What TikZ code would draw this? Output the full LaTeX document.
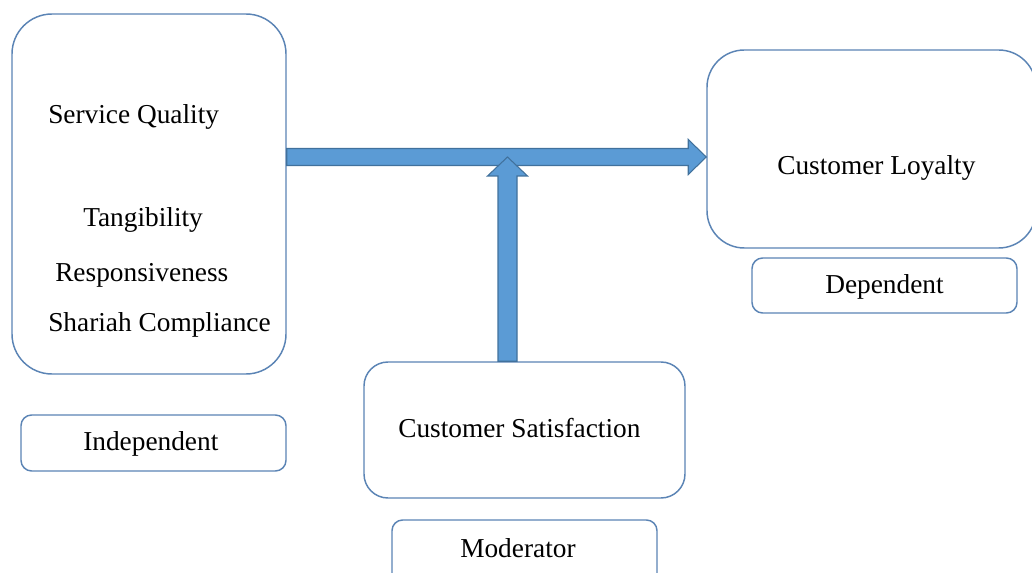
\documentclass[tikz,border=0pt]{standalone}
\usepackage{fontspec}
\setmainfont{Liberation Serif}
\usetikzlibrary{fit,calc}
\definecolor{boxline}{HTML}{5B84B5}
\definecolor{arrowfill}{HTML}{5B9BD5}
\definecolor{arrowline}{HTML}{41719C}
\begin{document}
\begin{tikzpicture}[x=0.75pt,y=-0.75pt,
  box/.style={draw=boxline, line width=1.1pt, inner sep=0pt, fill=white},
  lbl/.style={anchor=base west, inner sep=0pt, font=\fontsize{20.5}{24}\selectfont, text=black},
  fatarrow/.style={fill=arrowfill, draw=arrowline, line width=0.8pt, line join=miter}]
\useasboundingbox (0,0) rectangle (1032,573);
% boxes
\node[box, rounded corners=30pt, fit={(12,14)(286,374)}] (sq) {};
\node[box, rounded corners=8pt, fit={(21,415)(286,471)}] (ind) {};
\node[box, rounded corners=28pt, fit={(707,50)(1036,248)}] (cl) {};
\node[box, rounded corners=8pt, fit={(752,258)(1017,313)}] (dep) {};
\node[box, rounded corners=18pt, fit={(364,362)(685,498)}] (cs) {};
\node[box, rounded corners=8pt, fit={(392,520)(657,590)}] (mod) {};
% texts
\node[lbl] (t1) at (48,124) {Service Quality};
\node[lbl] (t2) at (83,227) {Tangibility};
\node[lbl] (t3) at (55,282) {Responsiveness};
\node[lbl] (t4) at (48,332) {Shariah Compliance};
\node[lbl] (t5) at (83,451) {Independent};
\node[lbl] (t6) at (777,175) {Customer Loyalty};
\node[lbl] (t7) at (825,294) {Dependent};
\node[lbl] (t8) at (398,438) {Customer Satisfaction};
\node[lbl] (t9) at (460,557) {Moderator};
% horizontal arrow from sq to cl
\coordinate (hs) at (sq.east |- 0,157);
\coordinate (ht) at (cl.west |- 0,157);
\draw[fatarrow] ($(hs)+(0,-8.5)$) -- ($(ht)+(-18,-8.5)$) -- ($(ht)+(-18,-17.5)$) -- (ht)
  -- ($(ht)+(-18,17.5)$) -- ($(ht)+(-18,8.5)$) -- ($(hs)+(0,8.5)$) -- cycle;
% vertical arrow from cs up to the horizontal arrow
\coordinate (vs) at (cs.north -| 507.5,0);
\coordinate (vt) at (507.5,157);
\draw[fatarrow] ($(vs)+(-9.5,0)$) -- ($(vt)+(-9.5,19)$) -- ($(vt)+(-20,19)$) -- (vt)
  -- ($(vt)+(20,19)$) -- ($(vt)+(9.5,19)$) -- ($(vs)+(9.5,0)$) -- cycle;
\end{tikzpicture}
\end{document}
